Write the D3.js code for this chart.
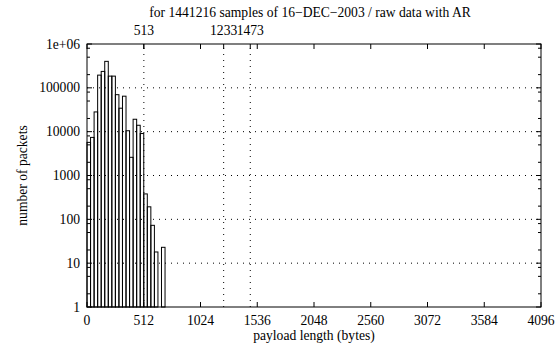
<!DOCTYPE html>
<meta charset="utf-8">
<style>
body { margin: 0; background: #fff; }
text { font-family: "Liberation Serif", "DejaVu Serif", serif; font-size: 13.6px; fill: #000; }
</style>
<body>
<script src="https://d3js.org/d3.v7.min.js"></script>
<script>

width = 557;
height = 344;
margin = ({top: 44, right: 16, bottom: 37, left: 87});

// histogram: 32-byte bins starting at 0
binStarts = [0, 32, 64, 96, 128, 160, 192, 224, 256, 288, 320, 352, 384, 416, 448, 480, 512, 544, 576, 608, 640, 672];
binWidth = 32;
counts = [5700, 7400, 28200, 195000, 237000, 402000, 185000, 185000, 69800, 34300, 64500, 10500, 2600, 19200, 14000, 9060, 380, 193, 73, 18, 0, 23];

xTicks = [0, 512, 1024, 1536, 2048, 2560, 3072, 3584, 4096];
x2Ticks = [513, 1233, 1473];
yTicks = [1, 10, 100, 1000, 10000, 100000, 1000000];
yLabels = ["1", "10", "100", "1000", "10000", "100000", "1e+06"];
yMinor = [2, 5, 8];

title = "for 1441216 samples of 16\u2212DEC\u22122003 / raw data with AR";

x = d3.scaleLinear([0, 4096], [margin.left, width - margin.right]);
y = d3.scaleLog([1, 1e6], [height - margin.bottom, margin.top]);

var svg = d3.select("body").append("svg")
    .attr("width", width)
    .attr("height", height);

x0 = x.range()[0]; x1 = x.range()[1];
y0 = y.range()[0]; y1 = y.range()[1];

// horizontal grid at decades
svg.append('g')
  .selectAll('line')
  .data(yTicks.slice(1, -1))
  .join('line')
    .attr('x1', x0).attr('x2', x1)
    .attr('y1', d => y(d)).attr('y2', d => y(d))
    .attr('stroke', '#000')
    .attr('stroke-width', 1)
    .attr('stroke-dasharray', '1,5');

// vertical grid at x2 ticks
svg.append('g')
  .selectAll('line')
  .data(x2Ticks)
  .join('line')
    .attr('x1', d => x(d)).attr('x2', d => x(d))
    .attr('y1', y0).attr('y2', y1)
    .attr('stroke', '#000')
    .attr('stroke-width', 1)
    .attr('stroke-dasharray', '1,5');

// bars (outlined boxes)
bins = binStarts.map((s, i) => ({start: s, count: counts[i]})).filter(d => d.count > 0);
svg.append('g')
  .selectAll('rect')
  .data(bins)
  .join('rect')
    .attr('x', d => x(d.start))
    .attr('y', d => y(d.count))
    .attr('width', d => x(d.start + binWidth) - x(d.start))
    .attr('height', d => y(1) - y(d.count))
    .attr('fill', 'none')
    .attr('stroke', '#000')
    .attr('stroke-width', 1);

// ticks (inward, mirrored)
ticks = svg.append('g').attr('stroke', '#000').attr('stroke-width', 1);
major = 5, minor = 3;
xTicks.forEach(t => {
  ticks.append('line').attr('x1', x(t)).attr('x2', x(t)).attr('y1', y0).attr('y2', y0 - major);
  ticks.append('line').attr('x1', x(t)).attr('x2', x(t)).attr('y1', y1).attr('y2', y1 + major);
});
x2Ticks.forEach(t => {
  ticks.append('line').attr('x1', x(t)).attr('x2', x(t)).attr('y1', y1).attr('y2', y1 + major);
});
yTicks.forEach((t, i) => {
  ticks.append('line').attr('x1', x0).attr('x2', x0 + major).attr('y1', y(t)).attr('y2', y(t));
  ticks.append('line').attr('x1', x1).attr('x2', x1 - major).attr('y1', y(t)).attr('y2', y(t));
  if (i < yTicks.length - 1) {
    yMinor.forEach(m => {
      ticks.append('line').attr('x1', x0).attr('x2', x0 + minor).attr('y1', y(t * m)).attr('y2', y(t * m));
      ticks.append('line').attr('x1', x1).attr('x2', x1 - minor).attr('y1', y(t * m)).attr('y2', y(t * m));
    });
  }
});

// border
svg.append('rect')
  .attr('x', x0).attr('y', y1)
  .attr('width', x1 - x0).attr('height', y0 - y1)
  .attr('fill', 'none')
  .attr('stroke', '#000')
  .attr('stroke-width', 1);

// labels
svg.selectAll('.xl')
  .data(xTicks)
  .join('text')
    .attr('x', d => x(d))
    .attr('y', 325)
    .attr('text-anchor', 'middle')
    .text(d => d);

svg.selectAll('.x2l')
  .data(x2Ticks)
  .join('text')
    .attr('x', d => x(d))
    .attr('y', 35)
    .attr('text-anchor', 'middle')
    .text(d => d);

svg.selectAll('.yl')
  .data(yTicks)
  .join('text')
    .attr('x', 80)
    .attr('y', d => y(d) + 4.5)
    .attr('text-anchor', 'end')
    .text((d, i) => yLabels[i]);

svg.append('text')
  .attr('x', (x0 + x1) / 2)
  .attr('y', 340)
  .attr('text-anchor', 'middle')
  .text('payload length (bytes)');

svg.append('text')
  .attr('transform', 'translate(27,' + ((y0 + y1) / 2) + ') rotate(-90)')
  .attr('text-anchor', 'middle')
  .text('number of packets');

svg.append('text')
  .attr('x', (x0 + x1) / 2 - 4)
  .attr('y', 17)
  .attr('text-anchor', 'middle')
  .text(title);

</script>
